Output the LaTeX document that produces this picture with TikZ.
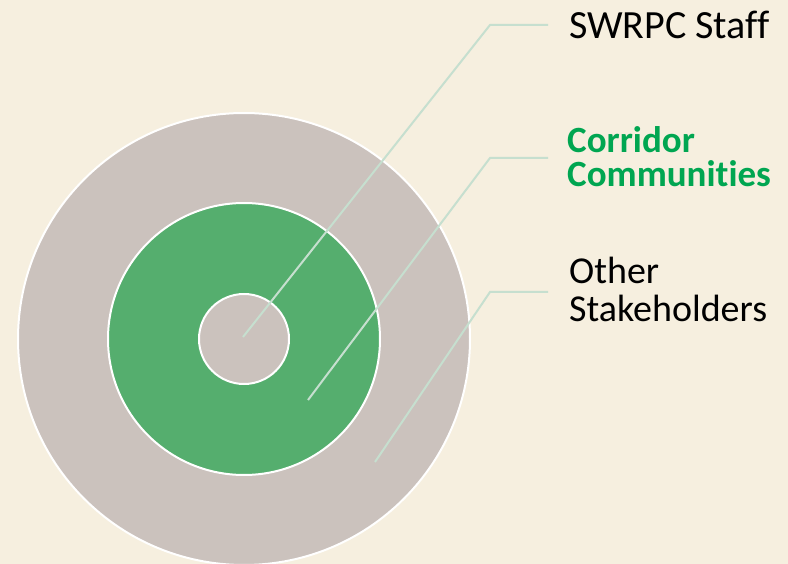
\documentclass[tikz,border=0pt]{standalone}
\usepackage{fontspec}
\setmainfont[Ligatures=NoCommon]{Carlito}
\usepackage{xcolor}
\definecolor{paper}{HTML}{F6EFDF}
\definecolor{ringgray}{HTML}{CBC2BD}
\definecolor{ringgreen}{HTML}{55AE6E}
\definecolor{leadergreen}{HTML}{C6DFCF}
\definecolor{labelgreen}{HTML}{00A651}

\begin{document}
\begin{tikzpicture}[x=1pt,y=-1pt,
            ring/.style={draw=white, line width=2pt},
            leader/.style={draw=leadergreen, line width=2pt},
            lbl/.style={anchor=west, inner sep=0pt, align=left}]
        \useasboundingbox (0,0) rectangle (788,564);
        \fill[paper] (0,0) rectangle (788,564);
        \clip (0,0) rectangle (788,564);

        \coordinate (c) at (244,339);
        \filldraw[ring, fill=ringgray] (c) circle (226);
        \filldraw[ring, fill=ringgreen] (c) circle (136);
        \filldraw[ring, fill=ringgray] (c) circle (45);

        \node[lbl, font=\fontsize{40}{38}\selectfont] (staff) at (569,25) {SWRPC Staff};
        \node[lbl, font=\fontsize{37}{34}\selectfont\bfseries, text=labelgreen] (corr) at (567,157) {Corridor\\Communities};
        \node[lbl, font=\fontsize{38}{38}\selectfont] (other) at (569,289) {Other\\Stakeholders};

        \coordinate (p1) at (243,337);
        \coordinate (p2) at (308,400);
        \coordinate (p3) at (375,462);
        \coordinate (k1) at (490,25);
        \coordinate (k2) at (490,158);
        \coordinate (k3) at (490,292);
        \coordinate (e1) at (548,25);
        \coordinate (e2) at (548,158);
        \coordinate (e3) at (548,292);

        \draw[leader] (p1) -- (k1) -- (e1);
        \draw[leader] (p2) -- (k2) -- (e2);
        \draw[leader] (p3) -- (k3) -- (e3);
\end{tikzpicture}
\end{document}
